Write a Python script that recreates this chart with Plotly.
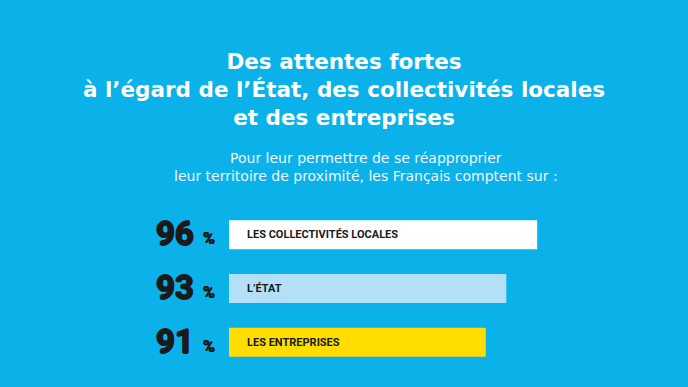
import plotly.graph_objects as go

categories = ["LES COLLECTIVITÉS LOCALES", "L’ÉTAT", "LES ENTREPRISES"]
values = [96, 93, 91]
bar_colors = ["#ffffff", "#b3e0f7", "#ffdd00"]

title_lines = ["Des attentes fortes",
               "à l’égard de l’État, des collectivités locales",
               "et des entreprises"]
subtitle_lines = ["Pour leur permettre de se réapproprier",
                  "leur territoire de proximité, les Français comptent sur :"]

BG = "#0bb1e9"
W, H = 688, 387
ml, mr, mt, mb = 229, 88, 207.5, 17.5
x0 = 66.05
pxu = 10.29
x1 = x0 + (W - ml - mr) / pxu
PW, PH = W - ml - mr, H - mt - mb

fig = go.Figure()
fig.add_trace(go.Bar(
    x=values, y=categories, orientation="h",
    marker=dict(color=bar_colors, line=dict(width=0)),
    width=0.54, hoverinfo="skip",
))

thick = "0.9px 0 0 #1a1a1a, -0.9px 0 0 #1a1a1a, 0 0.6px 0 #1a1a1a, 0 -0.6px 0 #1a1a1a"
ann = []
for i, (c, v) in enumerate(zip(categories, values)):
    ann.append(dict(
        x=0, xref="paper", y=c, yref="y", xanchor="right", yanchor="middle",
        xshift=-33, yshift=1, showarrow=False,
        text=f"<b>{v}</b>",
        font=dict(family="Roboto", size=33, color="#1a1a1a", shadow=thick),
    ))
    ann.append(dict(
        x=0, xref="paper", y=c, yref="y", xanchor="right", yanchor="middle",
        xshift=-12, yshift=-4, showarrow=False,
        text="<b>%</b>",
        font=dict(family="Roboto", size=16, color="#1a1a1a",
                  shadow="0.5px 0 0 #1a1a1a, -0.5px 0 0 #1a1a1a"),
    ))
    ann.append(dict(
        x=0, xref="paper", y=c, yref="y", xanchor="left", yanchor="middle",
        xshift=16, showarrow=False,
        text=f"<b>{c}</b>",
        font=dict(family="Roboto", size=11, color="#1a1a1a"),
    ))


def to_plot(px_x, px_y):
    return (px_x - ml) / PW, 1 - (px_y - mt) / PH


ax, ay = to_plot(344, 88)
ann.append(dict(
    x=ax, xref="paper", y=ay, yref="paper", yanchor="middle",
    xanchor="center", align="center", showarrow=False,
    text="<br>".join(f"<b>{t}</b>" for t in title_lines),
    font=dict(family="DejaVu Sans", size=21.5, color="#ffffff"),
))
ax, ay = to_plot(366, 166.5)
ann.append(dict(
    x=ax, xref="paper", y=ay, yref="paper", yanchor="middle",
    xanchor="center", align="center", showarrow=False,
    text="<br>".join(subtitle_lines),
    font=dict(family="DejaVu Sans", size=14, color="#eef8ff"),
))

fig.update_layout(
    width=W, height=H,
    margin=dict(l=ml, r=mr, t=mt, b=mb, pad=0),
    paper_bgcolor=BG, plot_bgcolor=BG,
    showlegend=False,
    xaxis=dict(range=[x0, x1], visible=False, fixedrange=True),
    yaxis=dict(categoryorder="array", categoryarray=categories, autorange="reversed",
               visible=False, fixedrange=True),
    annotations=ann,
)

fig.write_html("out.html", config={"displayModeBar": False})
